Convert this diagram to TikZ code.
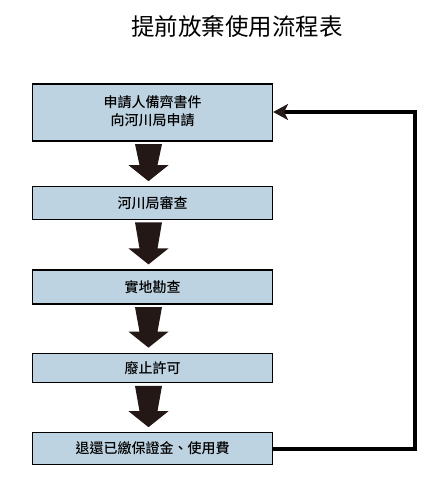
\documentclass[tikz,border=0pt]{standalone}
\usepackage{fontspec}
\setmainfont{Noto Sans CJK TC Medium}
\newfontfamily\titlefont{Noto Sans CJK TC}
\usetikzlibrary{calc,arrows.meta}
\definecolor{boxfill}{HTML}{BDD3E1}
\definecolor{arrowcol}{HTML}{231815}
\tikzset{
  stepbox/.style={draw=black, line width=1.2pt, fill=boxfill, minimum width=240pt, inner sep=0pt, font=\fontsize{14pt}{18pt}\selectfont, align=center},
  loopline/.style={line width=3.6pt, draw=black, line cap=butt, line join=miter},
}
\newcommand\blockarr[2]{%
  \fill[arrowcol] let \p1=(#1.south), \p2=(#2.north) in
    (\x1-4pt-13.5pt,\y1-2.5pt) -- (\x1-4pt+13.5pt,\y1-2.5pt) --
    (\x1-4pt+9pt,\y2+21pt) -- (\x1-4pt+20pt,\y2+21pt) --
    (\x1-4pt,\y2+5pt) --
    (\x1-4pt-20pt,\y2+21pt) -- (\x1-4pt-9pt,\y2+21pt) -- cycle;}
\begin{document}
\begin{tikzpicture}[x=1pt,y=-1pt]
\useasboundingbox (0,0) rectangle (444,482);
\node[font=\titlefont\fontsize{23.5pt}{26pt}\selectfont] (title) at (237,27) {提前放棄使用流程表};
\node[stepbox, minimum height=57pt] (b1) at (152.5,112.5) {\raisebox{3pt}{\begin{tabular}{@{}c@{}}申請人備齊書件\\向河川局申請\end{tabular}}};
\node[stepbox, minimum height=32.5pt] (b2) at (152.5,203) {河川局審查};
\node[stepbox, minimum height=34pt] (b3) at (152.5,287) {實地勘查};
\node[stepbox, minimum height=29.5pt] (b4) at (152.5,368) {廢止許可};
\node[stepbox, minimum height=31.5pt] (b5) at (152.5,448.5) {退還已繳保證金、使用費};
\blockarr{b1}{b2}
\blockarr{b2}{b3}
\blockarr{b3}{b4}
\blockarr{b4}{b5}
\coordinate (c1) at (415,449);
\coordinate (c2) at (415,112);
\draw[loopline, -{Stealth[length=15pt,width=16pt,inset=4pt,color=arrowcol]}] (b5.east |- c1) -- (c1) -- (c2) -- (b1.east |- c2);
\end{tikzpicture}
\end{document}
